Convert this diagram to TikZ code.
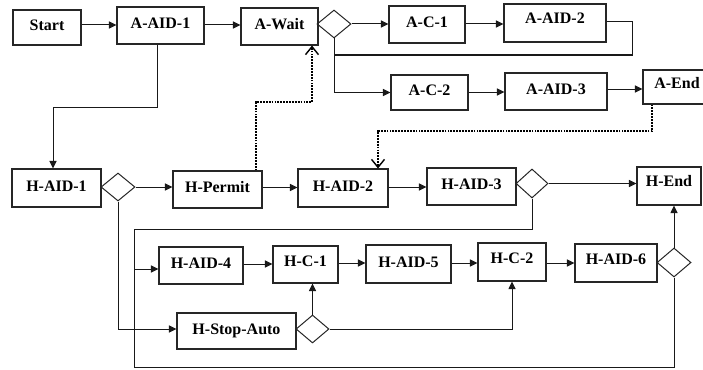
\documentclass[tikz,border=0pt]{standalone}
\usepackage{fontspec}
\setmainfont{Liberation Serif}
\usetikzlibrary{arrows.meta,shapes.geometric}
\tikzset{
  box/.style={draw=black!85, line width=1.05pt, fill=white, inner sep=0pt,
    font=\fontsize{16}{18}\selectfont\bfseries, text height=10.8pt, text depth=4pt},
  dia/.style={draw=black!85, line width=1pt, diamond, inner sep=0pt, aspect=1.2},
  conn/.style={draw=black!90, line width=1pt},
  arr/.style={conn, -{Triangle[length=7.5pt,width=7pt]}},
  dotarr/.style={draw=black, line width=2.2pt, dash pattern=on 1.8pt off 1.1pt,
    -{Straight Barb[length=8pt,width=13pt,line width=1.4pt]}}
}
\begin{document}
\begin{tikzpicture}[x=1pt,y=-1pt]
\useasboundingbox (0,0) rectangle (703,369);
% A row
\node[box, minimum width=68pt, minimum height=35pt] (start) at (47,27.5) {Start};
\node[box, minimum width=87pt, minimum height=37pt] (aaid1) at (160.5,25.5) {A-AID-1};
\node[box, minimum width=77pt, minimum height=37pt] (await) at (279.5,26.5) {A-Wait};
\node[dia, minimum width=34pt, minimum height=28pt] (d1) at (334,24) {};
\node[box, minimum width=76pt, minimum height=37pt] (ac1) at (427,24.5) {A-C-1};
\node[box, minimum width=102pt, minimum height=38pt, text depth=9pt] (aaid2) at (555,23) {A-AID-2};
\node[box, minimum width=77pt, minimum height=35pt] (ac2) at (429.5,92.5) {A-C-2};
\node[box, minimum width=102pt, minimum height=37pt] (aaid3) at (556,91.5) {A-AID-3};
\node[box, minimum width=68pt, minimum height=34pt, text depth=7pt] (aend) at (677,87) {A-End};
% H row
\node[box, minimum width=89pt, minimum height=38pt] (haid1) at (56.5,188) {H-AID-1};
\node[dia, minimum width=34pt, minimum height=28pt] (d2) at (118,187) {};
\node[box, minimum width=89pt, minimum height=37pt] (hpermit) at (217.5,189.5) {H-Permit};
\node[box, minimum width=90pt, minimum height=38pt] (haid2) at (343,188) {H-AID-2};
\node[box, minimum width=89pt, minimum height=37pt] (haid3) at (471.5,186.5) {H-AID-3};
\node[dia, minimum width=32pt, minimum height=29pt] (d3) at (532,183.5) {};
\node[box, minimum width=64pt, minimum height=38pt, text depth=9pt] (hend) at (669,186) {H-End};
% lower rows
\node[box, minimum width=84pt, minimum height=37pt] (haid4) at (201,265.5) {H-AID-4};
\node[box, minimum width=65pt, minimum height=37pt, text depth=7pt] (hc1) at (305.5,264.5) {H-C-1};
\node[box, minimum width=85pt, minimum height=38pt] (haid5) at (408.5,264) {H-AID-5};
\node[box, minimum width=68pt, minimum height=38pt, text depth=7pt] (hc2) at (512,262) {H-C-2};
\node[box, minimum width=82pt, minimum height=38pt, text depth=7pt] (haid6) at (616,263) {H-AID-6};
\node[dia, minimum width=34pt, minimum height=29pt] (d4) at (674,262.5) {};
\node[box, minimum width=119pt, minimum height=36pt] (hstop) at (236.5,331) {H-Stop-Auto};
\node[dia, minimum width=33pt, minimum height=28pt] (d5) at (312.5,329) {};
% helper coordinates
\coordinate (j1) at (334,55);
\coordinate (k1) at (157,107);
\coordinate (p1) at (312,102);
\coordinate (p2) at (378,131);
\coordinate (q1) at (134,229);
\coordinate (q2) at (134,269);
\coordinate (q3) at (134,367);
% A connectors
\draw[arr] (start.east |- 0,25) -- (aaid1.west |- 0,25);
\draw[arr] (aaid1.east |- 0,25) -- (await.west |- 0,25);
\draw[arr] (d1.east) -- (d1.east -| ac1.west);
\draw[arr] (ac1.east |- 0,24) -- (aaid2.west |- 0,24);
\draw[conn] (aaid2.east |- 0,22) -- ++(26,0) |- (j1);
\draw[arr] (d1.south) |- (ac2.west);
\draw[arr] (ac2.east |- 0,92) -- (aaid3.west |- 0,92);
\draw[arr] (aaid3.east |- 0,89) -- (aend.west |- 0,89);
\draw[arr] ([xshift=-3.5pt]aaid1.south) -- (k1) -| ([xshift=-3.5pt]haid1.north);
% dotted
\draw[dotarr] ([xshift=38.5pt]hpermit.north) |- (p1) -- (p1 |- await.south);
\draw[dotarr] ([xshift=-25pt]aend.south) |- (p2) -- (p2 |- haid2.north);
% H connectors
\draw[arr] (d2.east) -- (d2.east -| hpermit.west);
\draw[arr] (hpermit.east |- 0,187.5) -- (haid2.west |- 0,187.5);
\draw[arr] (haid2.east |- 0,187) -- (haid3.west |- 0,187);
\draw[arr] (d3.east) -- (d3.east -| hend.west);
\draw[conn] (d3.south) |- (q1) -- (q2);
\draw[conn] (d4.south) |- (q3) -- (q2);
\draw[arr] (q2) -- (q2 -| haid4.west);
\draw[arr] (d4.north) -- (d4.north |- hend.south);
\draw[arr] (d2.south) |- (hstop.west |- 0,329);
\draw[arr] (d5.north) -- (d5.north |- hc1.south);
\draw[arr] (d5.east) -| (hc2.south);
\draw[arr] (haid4.east |- 0,264) -- (hc1.west |- 0,264);
\draw[arr] (hc1.east |- 0,263) -- (haid5.west |- 0,263);
\draw[arr] (haid5.east |- 0,263) -- (hc2.west |- 0,263);
\draw[arr] (hc2.east |- 0,263) -- (haid6.west |- 0,263);
\end{tikzpicture}
\end{document}
